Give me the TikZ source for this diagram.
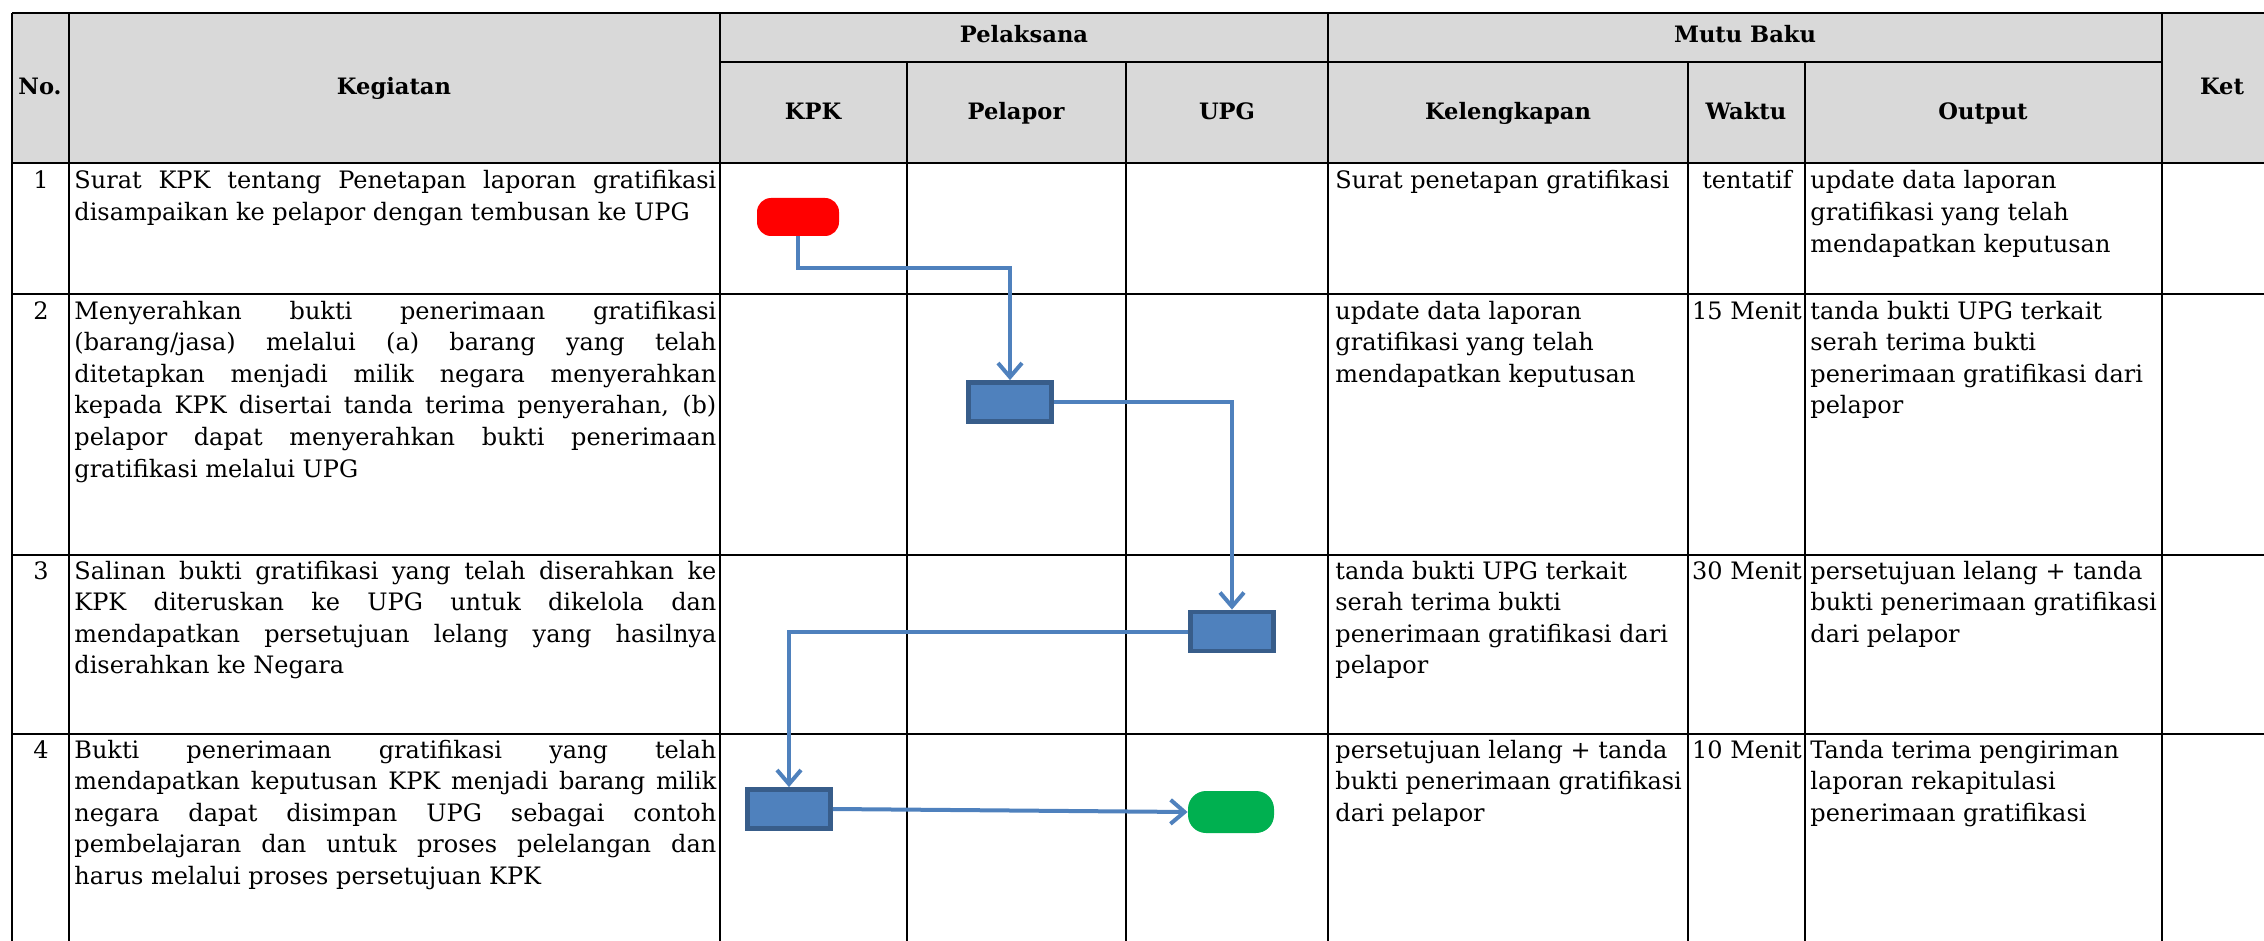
\documentclass[tikz,border=0pt]{standalone}
\usepackage{fontspec}
\setmainfont{DejaVu Serif}
\usetikzlibrary{arrows.meta}
\definecolor{hdr}{HTML}{D9D9D9}
\definecolor{flowblue}{HTML}{4F81BD}
\definecolor{boxedge}{HTML}{385D8A}
\definecolor{startred}{HTML}{FF0000}
\definecolor{endgreen}{HTML}{00B050}
\newcommand{\jl}[1]{\makebox[\linewidth][s]{#1}\\}
\newcommand{\cellbox}[2]{\parbox[t]{#1}{\raggedright #2}}
\begin{document}
\begin{tikzpicture}[x=0.5pt,y=-0.5pt,
  gridline/.style={draw=black,line width=1.2pt},
  hd/.style={anchor=base,inner sep=0pt,font=\fontsize{11.3}{13}\selectfont\bfseries},
  txt/.style={anchor=base west,inner sep=0pt,font=\fontsize{12}{15.8}\selectfont},
  ctr/.style={anchor=base,inner sep=0pt,font=\fontsize{12}{15.8}\selectfont},
  procbox/.style={fill=flowblue,draw=boxedge,line width=2.4pt,minimum width=41.5pt,minimum height=19.5pt,inner sep=0pt},
  startnode/.style={fill=startred,draw=none,minimum width=41pt,minimum height=19pt,rounded corners=7pt,inner sep=0pt},
  endnode/.style={fill=endgreen,draw=none,minimum width=43pt,minimum height=21pt,rounded corners=9pt,inner sep=0pt},
  flow/.style={draw=flowblue,line width=2pt,-{Straight Barb[length=7pt,width=12pt]}}
]
\useasboundingbox (0,0) rectangle (2264,941);
% header background
\fill[hdr] (12,13) rectangle (2264,163);
% horizontal lines
\draw[gridline] (12,13) -- (2264,13);
\draw[gridline] (720,62) -- (2162,62);
\draw[gridline] (12,163) -- (2264,163);
\draw[gridline] (12,294) -- (2264,294);
\draw[gridline] (12,555) -- (2264,555);
\draw[gridline] (12,734) -- (2264,734);
% vertical lines
\draw[gridline] (12,13) -- (12,941);
\draw[gridline] (69,13) -- (69,941);
\draw[gridline] (720,13) -- (720,941);
\draw[gridline] (907,62) -- (907,941);
\draw[gridline] (1126,62) -- (1126,941);
\draw[gridline] (1328,13) -- (1328,941);
\draw[gridline] (1688,62) -- (1688,941);
\draw[gridline] (1805,62) -- (1805,941);
\draw[gridline] (2162,13) -- (2162,941);
% header texts
\node[hd] (hno) at (40,95) {No.};
\node[hd] (hkeg) at (394,95) {Kegiatan};
\node[hd] (hpel) at (1024,43) {Pelaksana};
\node[hd] (hkpk) at (813,120) {KPK};
\node[hd] (hpelapor) at (1016,120) {Pelapor};
\node[hd] (hupg) at (1227,120) {UPG};
\node[hd] (hmutu) at (1745,43) {Mutu Baku};
\node[hd] (hkel) at (1508,120) {Kelengkapan};
\node[hd] (hwak) at (1746,120) {Waktu};
\node[hd] (hout) at (1983,120) {Output};
\node[hd] (hket) at (2222,95) {Ket};
% row 1
\node[ctr] (n1) at (41,189) {1};
\node[txt] (k1) at (74,189) {\cellbox{321pt}{\jl{Surat KPK tentang Penetapan laporan gratifikasi}disampaikan ke pelapor dengan tembusan ke UPG}};
\node[txt] (l1) at (1335,189) {\cellbox{176pt}{Surat penetapan gratifikasi}};
\node[ctr] (w1) at (1747,189) {tentatif};
\node[txt] (o1) at (1810,189) {\cellbox{176pt}{update data laporan\\gratifikasi yang telah\\mendapatkan keputusan}};
% row 2
\node[ctr] (n2) at (41,319) {2};
\node[txt] (k2) at (74,319) {\cellbox{321pt}{\jl{Menyerahkan bukti penerimaan gratifikasi}\jl{(barang/jasa) melalui (a) barang yang telah}\jl{ditetapkan menjadi milik negara menyerahkan}\jl{kepada KPK disertai tanda terima penyerahan, (b)}\jl{pelapor dapat menyerahkan bukti penerimaan}gratifikasi melalui UPG}};
\node[txt] (l2) at (1335,319) {\cellbox{176pt}{update data laporan\\gratifikasi yang telah\\mendapatkan keputusan}};
\node[ctr] (w2) at (1747,319) {15 Menit};
\node[txt] (o2) at (1810,319) {\cellbox{176pt}{tanda bukti UPG terkait\\serah terima bukti\\penerimaan gratifikasi dari\\pelapor}};
% row 3
\node[ctr] (n3) at (41,579) {3};
\node[txt] (k3) at (74,579) {\cellbox{321pt}{\jl{Salinan bukti gratifikasi yang telah diserahkan ke}\jl{KPK diteruskan ke UPG untuk dikelola dan}\jl{mendapatkan persetujuan lelang yang hasilnya}diserahkan ke Negara}};
\node[txt] (l3) at (1335,579) {\cellbox{176pt}{tanda bukti UPG terkait\\serah terima bukti\\penerimaan gratifikasi dari\\pelapor}};
\node[ctr] (w3) at (1747,579) {30 Menit};
\node[txt] (o3) at (1810,579) {\cellbox{176pt}{persetujuan lelang + tanda\\bukti penerimaan gratifikasi\\dari pelapor}};
% row 4
\node[ctr] (n4) at (41,758) {4};
\node[txt] (k4) at (74,758) {\cellbox{321pt}{\jl{Bukti penerimaan gratifikasi yang telah}\jl{mendapatkan keputusan KPK menjadi barang milik}\jl{negara dapat disimpan UPG sebagai contoh}\jl{pembelajaran dan untuk proses pelelangan dan}harus melalui proses persetujuan KPK}};
\node[txt] (l4) at (1335,758) {\cellbox{176pt}{persetujuan lelang + tanda\\bukti penerimaan gratifikasi\\dari pelapor}};
\node[ctr] (w4) at (1747,758) {10 Menit};
\node[txt] (o4) at (1810,758) {\cellbox{176pt}{Tanda terima pengiriman\\laporan rekapitulasi\\penerimaan gratifikasi}};
% flow shapes
\node[startnode] (start) at (798,217) {};
\node[procbox] (p2) at (1010,402) {};
\node[procbox] (p3) at (1232,631.5) {};
\node[procbox] (p4) at (789,809) {};
\node[endnode] (stop) at (1231,812) {};
% connectors
\coordinate (bend1) at (1010,268);
\draw[flow] (start.south) |- (bend1) -- (p2.north);
\draw[flow] (p2.east) -| (p3.north);
\draw[flow] (p3.west) -| (p4.north);
\draw[flow] (p4.east) -- (stop.west);
\end{tikzpicture}
\end{document}
